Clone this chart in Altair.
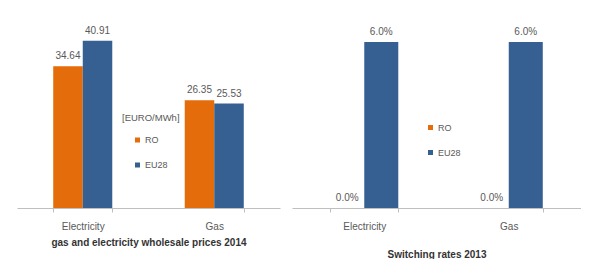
import altair as alt
import pandas as pd

categories = ["Electricity", "Gas"]
series = ["RO", "EU28"]
prices_ro = [34.64, 26.35]
prices_eu28 = [40.91, 25.53]
switch_ro = [0.0, 0.0]
switch_eu28 = [0.06, 0.06]

ORANGE = "#E46C0A"
BLUE = "#376092"
FONT = "Liberation Sans Narrow, Liberation Sans, sans-serif"


def make_df(ro, eu):
    rows = []
    for i, c in enumerate(categories):
        rows.append({"category": c, "series": "RO", "value": ro[i]})
        rows.append({"category": c, "series": "EU28", "value": eu[i]})
    return pd.DataFrame(rows)


df1 = make_df(prices_ro, prices_eu28)
df2 = make_df(switch_ro, switch_eu28)


def panel(df, width, ymax, fmt, xtitle, title_pad, pin, legend):
    base = alt.Chart(df).encode(
        x=alt.X(
            "category:N",
            sort=categories,
            scale=alt.Scale(paddingInner=pin, paddingOuter=pin / 2),
            axis=alt.Axis(
                title=xtitle,
                labelAngle=0,
                tickBand="extent",
                titlePadding=title_pad,
            ),
        ),
        xOffset=alt.XOffset(
            "series:N", sort=series, scale=alt.Scale(paddingInner=0, paddingOuter=0)
        ),
        y=alt.Y("value:Q", scale=alt.Scale(domain=[0, ymax]), axis=None),
    )
    bars = base.mark_bar().encode(
        color=alt.Color(
            "series:N",
            sort=series,
            scale=alt.Scale(domain=series, range=[ORANGE, BLUE]),
            legend=legend,
            title=None,
        )
    )
    labels = base.mark_text(dy=-10, fontSize=10, color="#595959", font=FONT).encode(
        text=alt.Text("value:Q", format=fmt)
    )
    return (bars + labels).properties(width=width, height=200)


leg1 = alt.Legend(
    orient="none",
    legendX=105,
    legendY=105,
    title="[EURO/MWh]",
    symbolOffset=11,
)
leg2 = alt.Legend(
    orient="none",
    legendX=134,
    legendY=115,
)

left = panel(df1, 263, 48.9, ".2f", "gas and electricity wholesale prices 2014", 6, 0.551, leg1)
right = panel(df2, 289, 0.0723, ".1%", "Switching rates 2013", 18, 0.529, leg2)

chart = (
    alt.hconcat(left, right, spacing=12)
    .resolve_scale(x="independent", y="independent", color="independent", xOffset="independent")
    .resolve_legend(color="independent")
    .properties(padding={"left": 9, "top": 0, "right": 0, "bottom": 0})
    .configure_view(stroke=None)
    .configure_axis(
        domainColor="#BFBFBF",
        tickColor="#BFBFBF",
        tickSize=4,
        labelFont=FONT,
        labelFontSize=10,
        labelColor="#595959",
        labelPadding=9,
        titleFont=FONT,
        titleFontSize=10,
        titleFontWeight="bold",
        titleColor="#333333",
        grid=False,
    )
    .configure_legend(
        labelFont=FONT,
        labelFontSize=9,
        labelColor="#595959",
        titleFont=FONT,
        titleFontSize=9.5,
        titleFontWeight="normal",
        titleColor="#595959",
        titlePadding=13,
        symbolType="square",
        symbolSize=25,
        symbolStrokeWidth=0,
        rowPadding=15,
        labelOffset=3,
    )
)

chart.save("out.html", embed_options={"renderer": "svg", "actions": False})
